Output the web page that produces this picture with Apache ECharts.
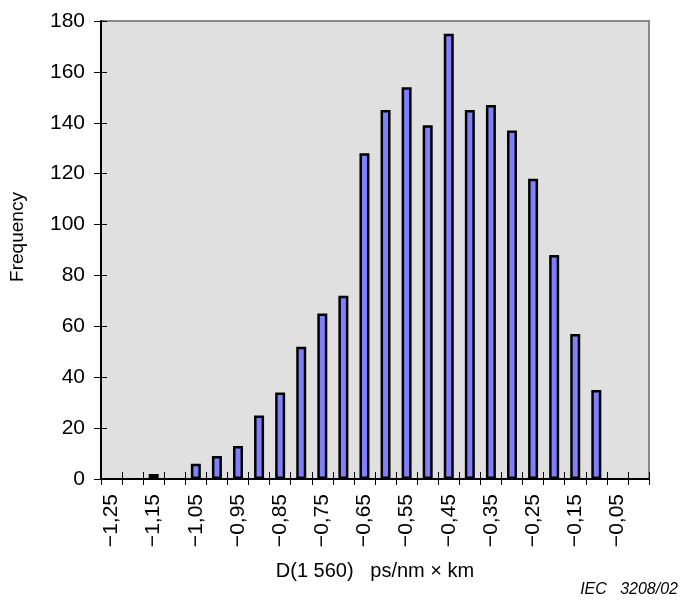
<!DOCTYPE html>
<html>
<head>
<meta charset="utf-8">
<script src="https://cdn.jsdelivr.net/npm/echarts@6/dist/echarts.min.js"></script>
<style>
  html, body { margin: 0; padding: 0; background: #fff; }
  #main { width: 681px; height: 601px; }
</style>
</head>
<body>
<div id="main"></div>
<script>
// dispersion classes D(1560), step 0,05
const categories = ['−1,25', '−1,20', '−1,15', '−1,10', '−1,05', '−1,00', '−0,95', '−0,90', '−0,85',
  '−0,80', '−0,75', '−0,70', '−0,65', '−0,60', '−0,55', '−0,50', '−0,45', '−0,40', '−0,35',
  '−0,30', '−0,25', '−0,20', '−0,15', '−0,10', '−0,05', '0,00'];
// frequency per class
const frequency = [0, 0, 2, 0, 6, 9, 13, 25, 34, 52, 65, 72, 128, 145, 154, 139, 175, 145, 147,
  137, 118, 88, 57, 35, 0, 0];
const yMin = 0, yMax = 180, yStep = 20;

const font = 'Liberation Sans, Arial, sans-serif';
const myChart = echarts.init(document.getElementById('main'));

const option = {
  animation: false,
  grid: {
    left: 96, right: 32, top: 21, bottom: 122,
    show: true,
    backgroundColor: '#e0e0e0',
    borderColor: '#888888',
    borderWidth: 2
  },
  xAxis: [
    {
      type: 'category',
      data: categories,
      boundaryGap: true,
      axisLine: { lineStyle: { color: '#000', width: 2 } },
      axisTick: { show: true, interval: 0, length: 6, lineStyle: { color: '#000', width: 1 } },
      axisLabel: {
        interval: 1, rotate: 90, margin: 15,
        color: '#000', fontSize: 21, fontFamily: font
      },
      name: 'D(1 560)   ps/nm × km',
      nameLocation: 'middle',
      nameGap: 82,
      nameTextStyle: { color: '#000', fontSize: 20, fontFamily: font }
    },
    {
      // second axis only to draw the inner half of the ticks
      type: 'category',
      data: categories,
      position: 'bottom',
      boundaryGap: true,
      axisLine: { show: false },
      axisTick: { show: true, inside: true, interval: 0, length: 7, lineStyle: { color: '#000', width: 1 } },
      axisLabel: { show: false }
    }
  ],
  yAxis: [
    {
      type: 'value',
      min: yMin, max: yMax, interval: yStep,
      axisLine: { show: true, lineStyle: { color: '#000', width: 2 } },
      axisTick: { show: true, length: 7, lineStyle: { color: '#000', width: 1 } },
      splitLine: { show: false },
      axisLabel: { margin: 16, color: '#000', fontSize: 21, fontFamily: font },
      name: 'Frequency',
      nameLocation: 'middle',
      nameGap: 74,
      nameRotate: 90,
      nameTextStyle: { color: '#000', fontSize: 19, fontFamily: font, padding: [0, 0, 0, 26] }
    },
    {
      type: 'value',
      position: 'left',
      min: yMin, max: yMax, interval: yStep,
      axisLine: { show: false },
      axisTick: { show: true, inside: true, length: 6, lineStyle: { color: '#000', width: 1 } },
      splitLine: { show: false },
      axisLabel: { show: false }
    }
  ],
  series: [
    {
      type: 'bar',
      // empty classes get no bar at all (no border stub on the axis)
      data: frequency.map(v => (v === 0 ? '-' : v)),
      barWidth: 10,
      itemStyle: { color: '#8080ff', borderColor: '#000', borderWidth: 2.5 }
    }
  ],
  graphic: [
    {
      type: 'text',
      right: 3,
      bottom: 3,
      style: { text: 'IEC   3208/02', fontSize: 16, fontStyle: 'italic', fontFamily: font, fill: '#000' }
    }
  ]
};
myChart.setOption(option);
</script>
</body>
</html>
